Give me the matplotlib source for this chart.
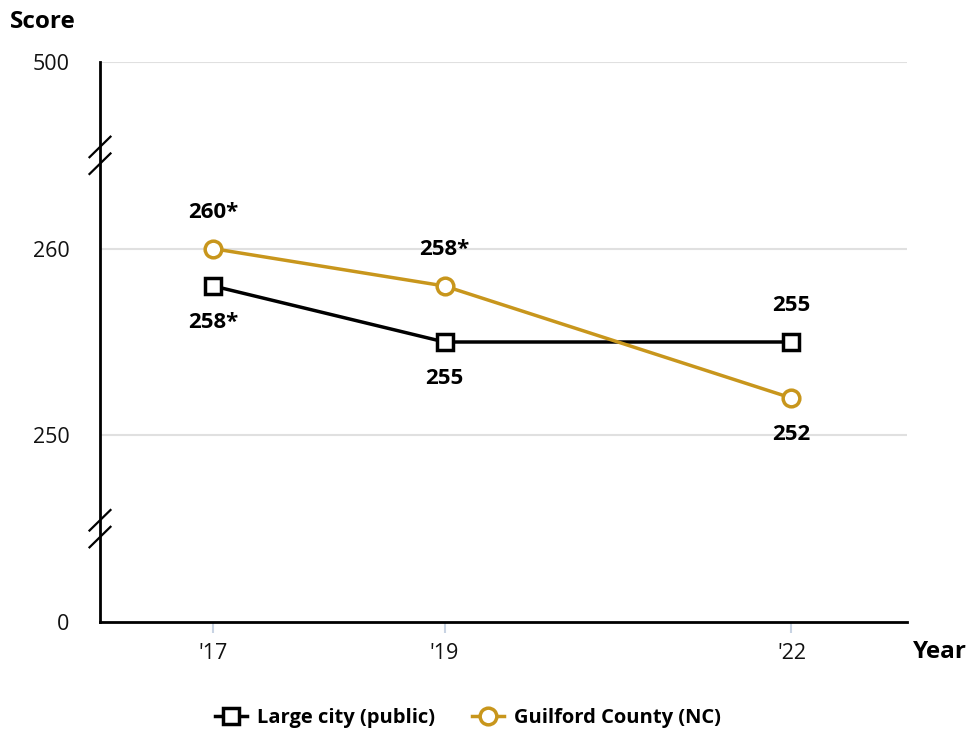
import matplotlib.pyplot as plt
from matplotlib.lines import Line2D

plt.rcParams['font.family'] = ['Open Sans', 'DejaVu Sans']

# data
years = [2017, 2019, 2022]
year_labels = ["'17", "'19", "'22"]
large_city = [258, 255, 255]
guilford = [260, 258, 252]
large_city_labels = ['258*', '255', '255']
guilford_labels = ['260*', '258*', '252']

# broken axis: plotted scale 240..270, with 0 shown at 240 and 500 at 270
y_ticks = [240, 250, 260, 270]
y_tick_labels = ['0', '250', '260', '500']
breaks = [245, 265]

gold = '#C8961C'

fig = plt.figure(figsize=(9.71, 7.31), dpi=100)
ax = fig.add_axes([100 / 971, 1 - 622 / 731, 807 / 971, 560 / 731])
ax.set_xlim(2016.02, 2023.0)
ax.set_ylim(240, 270)

for s in ['top', 'right']:
    ax.spines[s].set_visible(False)
ax.spines['left'].set_linewidth(2)
ax.spines['bottom'].set_linewidth(2)
ax.spines['left'].set_zorder(1)

for yv in [250, 260, 270]:
    ax.axhline(yv, color='#e0e0e0', lw=1.5, zorder=0)

ax.set_yticks(y_ticks)
ax.set_yticklabels(y_tick_labels, fontsize=15.5, color='#111111')
ax.tick_params(axis='y', length=0, pad=22)
ax.set_xticks(years)
ax.set_xticklabels(year_labels, fontsize=15.5, color='#111111')
ax.tick_params(axis='x', length=8, width=1.5, color='#c8d3e3', pad=7)

# break marks on y axis
for b in breaks:
    for off in [-0.45, 0.45]:
        ax.plot([-0.013, 0.013], [b + off - 0.55, b + off + 0.55], color='black', lw=1.6,
                transform=ax.get_yaxis_transform(), clip_on=False, zorder=5)

ax.plot(years, large_city, color='black', lw=2.5, marker='s', ms=12,
        mfc='white', mec='black', mew=2.5, zorder=3)
ax.plot(years, guilford, color=gold, lw=2.5, marker='o', ms=12,
        mfc='white', mec=gold, mew=2.5, zorder=4)

for x, y1, y2, l1, l2 in zip(years, large_city, guilford, large_city_labels, guilford_labels):
    if y1 > y2:
        d1, d2 = 1, -1
    else:
        d1, d2 = -1, 1
    ax.annotate(l1, (x, y1), xytext=(0, d1 * 26), textcoords='offset points',
                ha='center', va='center', fontsize=16, fontweight='bold', color='black')
    ax.annotate(l2, (x, y2), xytext=(0, d2 * 26), textcoords='offset points',
                ha='center', va='center', fontsize=16, fontweight='bold', color='black')

fig.text(10 / 971, 1 - 22 / 731, 'Score', fontsize=17.5, fontweight='bold', va='center', ha='left')
fig.text(967 / 971, 1 - 652 / 731, 'Year', fontsize=17.5, fontweight='bold', va='center', ha='right')

handles = [
    Line2D([], [], color='black', lw=2.5, marker='s', ms=11, mfc='white', mec='black', mew=2.5),
    Line2D([], [], color=gold, lw=2.5, marker='o', ms=12, mfc='white', mec=gold, mew=2.5),
]
leg = fig.legend(handles, ['Large city (public)', 'Guilford County (NC)'], loc='center',
                 bbox_to_anchor=(468 / 971, 1 - 718 / 731), ncol=2, frameon=False,
                 handlelength=1.6, columnspacing=1.8, handletextpad=0.5,
                 prop={'weight': 'bold', 'size': 14.5})

fig.savefig('out.png', dpi=100)
